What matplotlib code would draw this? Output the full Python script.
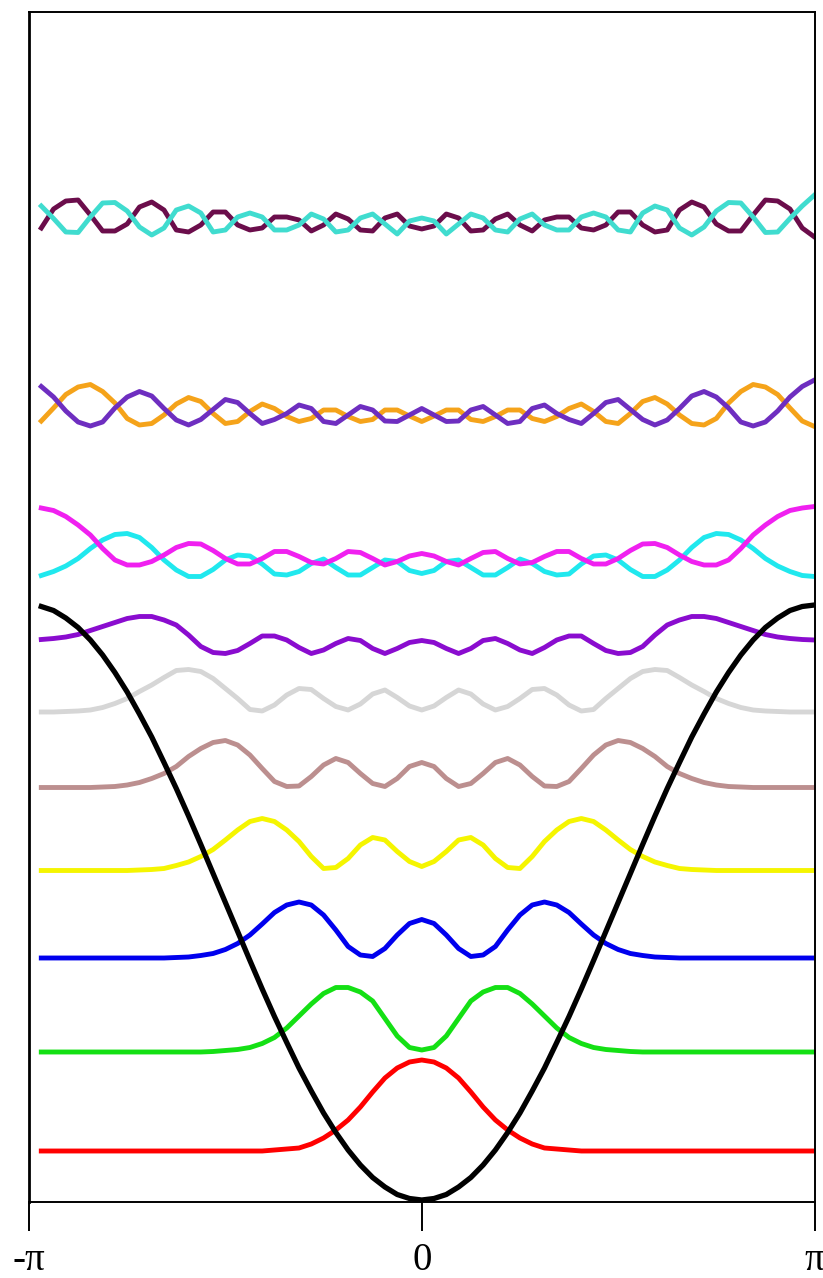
import numpy as np
import matplotlib
matplotlib.use("Agg")
import matplotlib.pyplot as plt

# sample points: 64 steps over one period, from -pi + h up to pi
x = np.linspace(-np.pi, np.pi, 65)[1:]

# potential (black)
potencial = [593.5, 589.5, 582, 572.5, 560, 545, 527.5, 508, 486, 463, 437.5, 411.5, 384, 355.5, 326.5, 297.5,
             268.5, 239.5, 211, 183.5, 157.5, 132, 109, 87, 67.5, 50, 35, 22.5, 13, 5.5, 1.5,
             0,
             1.5, 5.5, 13, 22.5, 35, 50, 67.5, 87, 109, 132, 157.5, 183.5, 211, 239.5, 268.5,
             297.5, 326.5, 355.5, 384, 411.5, 437.5, 463, 486, 508, 527.5, 545, 560, 572.5, 582, 589.5, 593.5, 595]

# densidades deslocadas pela energia de cada estado
n0 = [49] * 19 + [50, 51, 52, 56, 62, 70, 80, 93, 108, 122, 132, 138,
                  140,
                  138, 132, 122, 108, 93, 80, 70, 62, 56, 52, 51, 50] + [49] * 20

n1 = [148] * 14 + [148.5, 149.5, 150.5, 152.5, 156.5, 162.5, 172, 184, 196, 206.5, 212.5, 212.5, 208, 199, 181.5, 164, 152.5,
                   150,
                   152.5, 164, 181.5, 199, 208, 212.5, 212.5, 206.5, 196, 184, 172, 162.5, 156.5, 152.5, 150.5, 149.5, 148.5] + [148] * 15

n2 = [242] * 11 + [242.5, 243, 244.5, 246.5, 250.5, 256.5, 265, 276, 287.5, 295, 298, 295, 285, 270, 253.5, 245, 243.5, 251.5, 265, 276.5,
                   280.5,
                   276.5, 265, 251.5, 243.5, 245, 253.5, 270, 285, 295, 298, 295, 287.5, 276, 265, 256.5, 250.5, 246.5, 244.5, 243, 242.5] + [242] * 12

n3 = [329.5] * 8 + [330, 330.5, 331.5, 334.5, 338, 343.5, 350.5, 360, 370, 378.5, 381.5, 378.5, 370, 358.5, 343.5, 331.5,
                    332.5, 341.5, 355, 362.5, 360, 348.5, 338.5,
                    333.5,
                    338.5, 348.5, 360, 362.5, 355, 341.5, 332.5, 331.5, 343.5, 358.5, 370, 378.5, 381.5, 378.5, 370, 360,
                    350.5, 343.5, 338, 334.5, 331.5, 330.5, 330] + [329.5] * 9

n4 = [412.5] * 5 + [413, 413.5, 415, 417.5, 421.5, 426.5, 433.5, 443.5, 451.5, 457.5, 459.5, 455, 445, 431.5, 418.5, 413.5,
                    414, 423.5, 435, 441.5, 437.5, 426.5, 416.5, 413.5, 421.5, 433.5,
                    437.5,
                    433.5, 421.5, 413.5, 416.5, 426.5, 437.5, 441.5, 435, 423.5, 414, 413.5, 418.5, 431.5, 445, 455,
                    459.5, 457.5, 451.5, 443.5, 433.5, 426.5, 421.5, 417.5, 415, 413.5, 413] + [412.5] * 6

n5 = [488, 488, 488.5, 489, 490, 492.5, 496.5, 501.5, 508.5, 515, 522.5, 529.5, 530.5, 528.5, 521.5, 511.5,
      501.5, 490.5, 489, 495, 505, 511.5, 510.5, 501.5, 493.5, 490, 496, 506, 510, 502.5, 494,
      490,
      494, 502.5, 510, 506, 496, 490, 493.5, 501.5, 510.5, 511.5, 505, 495, 489, 490.5, 501.5,
      511.5, 521.5, 528.5, 530.5, 529.5, 522.5, 515, 508.5, 501.5, 496.5, 492.5, 490, 489, 488.5, 488, 488, 488]

n6 = [560.5, 561.5, 563, 565.5, 569.5, 573.5, 577.5, 581.5, 583.5, 583.5, 580, 575, 565, 553.5, 547.5, 546.5,
      549.5, 556.5, 564, 564, 560, 552.5, 546.5, 550, 556.5, 561.5, 559.5, 551.5, 546.5, 551.5, 557.5,
      559.5,
      557.5, 551.5, 546.5, 551.5, 559.5, 561.5, 556.5, 550, 546.5, 552.5, 560, 564, 564, 556.5, 549.5,
      546.5, 547.5, 553.5, 565, 575, 580, 583.5, 583.5, 581.5, 577.5, 573.5, 569.5, 565.5, 563, 561.5, 560.5, 560]

n7_cyan = [624.5, 628.5, 634, 641.5, 651.5, 660, 665.5, 666.5, 662.5, 652.5, 640, 630, 623.5, 623.5, 630.5, 640,
           645, 644, 636, 626, 625, 628.5, 636.5, 641, 632.5, 625, 625, 632.5, 640, 638.5, 629.5,
           626.5,
           629.5, 638.5, 640, 632.5, 625, 625, 632.5, 641, 636.5, 628.5, 625, 626, 636, 644, 645,
           640, 630.5, 623.5, 623.5, 630, 640, 652.5, 662.5, 666.5, 665.5, 660, 651.5, 641.5, 634, 628.5, 624.5, 623.5]

n8_magenta = [692, 689.5, 683.5, 675, 665, 651.5, 640, 635, 635, 638.5, 645, 652.5, 656.5, 656, 649.5, 641.5,
              636, 636, 641.5, 648.5, 648.5, 643.5, 637.5, 636, 641.5, 648.5, 647.5, 641.5, 635, 638.5, 644,
              646.5,
              644, 638.5, 635, 641.5, 647.5, 648.5, 641.5, 636, 637.5, 643.5, 648.5, 648.5, 641.5, 636, 636,
              641.5, 649.5, 656, 656.5, 652.5, 645, 638.5, 635, 635, 640, 651.5, 665, 675, 683.5, 689.5, 692, 693.5]

n9_laranja = [779, 792, 805.5, 813, 815.5, 808.5, 797, 781.5, 775, 776.5, 785, 796, 802.5, 798.5, 786.5, 776.5,
              778.5, 788.5, 796, 791.5, 783.5, 778.5, 781.5, 790, 790, 783.5, 778.5, 780.5, 790, 790, 784,
              778.5,
              784, 790, 790, 780.5, 778.5, 783.5, 790, 790, 781.5, 778.5, 783.5, 791.5, 796, 788.5, 778.5,
              776.5, 786.5, 798.5, 802.5, 796, 785, 776.5, 775, 781.5, 797, 808.5, 815.5, 813, 805.5, 792, 779, 773.5]

n10_violeta = [813.5, 803, 789, 778, 774, 778, 792, 803, 808.5, 804, 791.5, 780, 775, 780.5, 790.5, 800.5,
               797.5, 786.5, 776.5, 780.5, 786.5, 795, 791.5, 778.5, 776.5, 785, 793.5, 790, 779, 778.5, 785,
               791.5,
               785, 778.5, 779, 790, 793.5, 785, 776.5, 778.5, 791.5, 795, 786.5, 780.5, 776.5, 786.5, 797.5,
               800.5, 790.5, 780.5, 775, 780, 791.5, 804, 808.5, 803, 792, 778, 774, 778, 789, 803, 813.5, 820]

n11_vinho = [972, 991, 999, 1000, 985, 969, 969, 976, 993, 998, 990, 970, 968, 975, 988, 988,
             975, 970, 972, 983, 983, 980, 969, 975, 986, 981, 970, 969, 982, 986, 974,
             971,
             974, 986, 982, 969, 970, 981, 986, 975, 969, 980, 983, 983, 972, 970, 975,
             988, 988, 975, 968, 970, 990, 998, 993, 976, 969, 969, 985, 1000, 999, 991, 972, 963]

n12_turquesa = [994, 981.5, 968, 967.5, 983, 997, 997.5, 989, 973, 965, 972, 990, 994, 987, 968, 970,
                983, 987, 983, 970, 970, 975, 986, 981, 968, 970, 982, 986, 976, 966, 979,
                982,
                979, 966, 976, 986, 982, 970, 968, 981, 986, 975, 970, 970, 983, 987, 983,
                970, 968, 987, 994, 990, 972, 965, 973, 989, 997.5, 997, 983, 967.5, 968, 981.5, 994, 1005]

estados = [
    (n0, "#ff0000"),
    (n1, "#14e014"),
    (n2, "#0000ee"),
    (n3, "#f5f500"),
    (n4, "#bc8f8f"),
    (n5, "#d6d6d6"),
    (n6, "#8a0ccf"),
    (n7_cyan, "#20e8ee"),
    (n8_magenta, "#f020f0"),
    (n9_laranja, "#f5a31a"),
    (n10_violeta, "#6e2ec0"),
    (n11_vinho, "#6b0d4b"),
    (n12_turquesa, "#40dccf"),
]

fig = plt.figure(figsize=(8.23, 12.78), dpi=100)
ax = fig.add_axes([29 / 823, (1278 - 1201.5) / 1278, 785.5 / 823, (1201.5 - 12) / 1278])

for dens, cor in estados:
    ax.plot(x, dens, color=cor, lw=3.5)
ax.plot(x, potencial, color="black", lw=3.8)

ax.set_xlim(-np.pi, np.pi)
ax.set_ylim(-1.5, 1188)
ax.set_yticks([])
ax.set_xticks([-np.pi, 0, np.pi])
ax.set_xticklabels(["-π", "0", "π"], fontfamily="Liberation Serif", fontsize=28)
ax.tick_params(axis="x", direction="out", length=21, width=1.4, pad=8)
for lado in ["top", "right", "bottom"]:
    ax.spines[lado].set_linewidth(1.4)
ax.spines["left"].set_linewidth(2.0)

fig.savefig("out.png", dpi=100)
